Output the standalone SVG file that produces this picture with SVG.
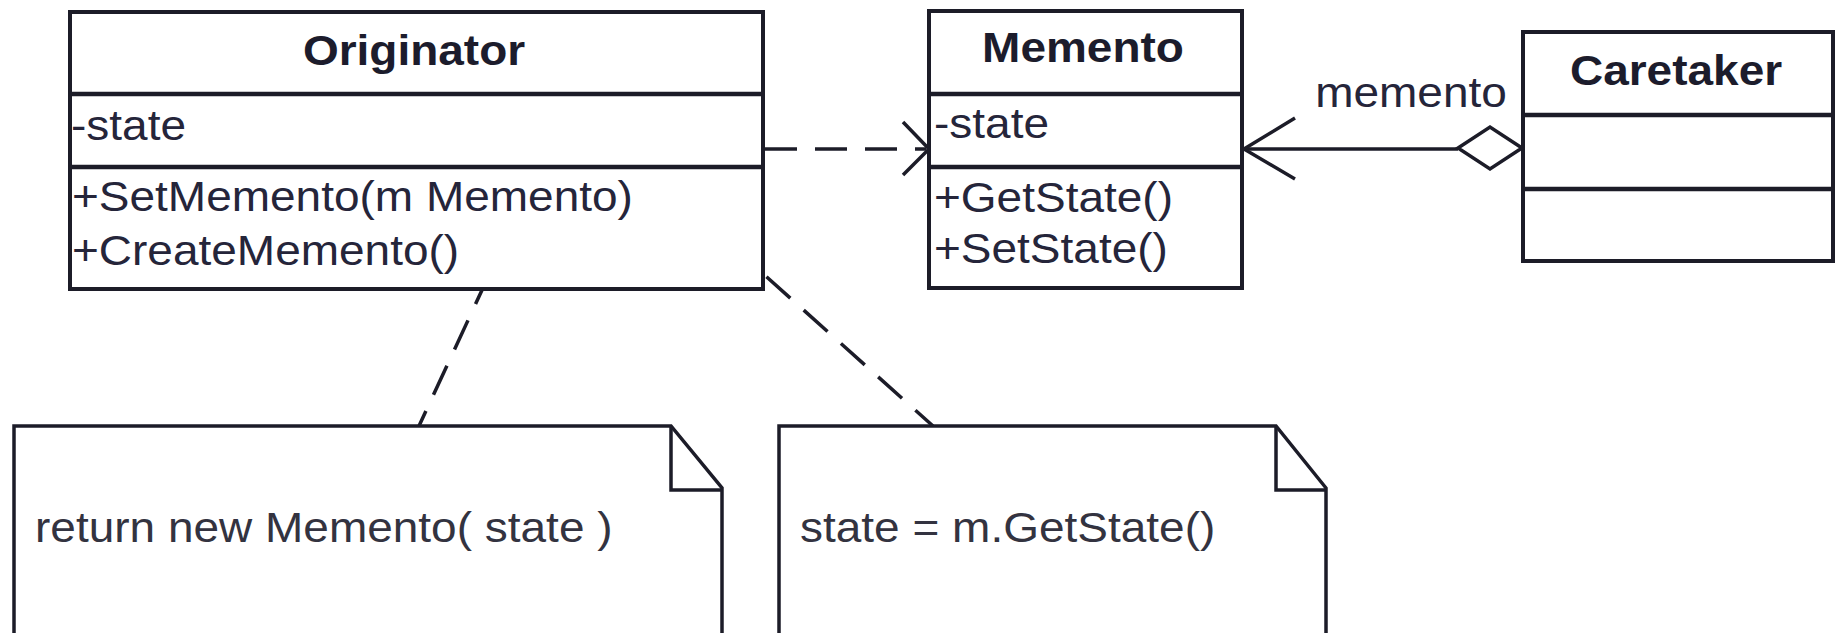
<svg xmlns="http://www.w3.org/2000/svg" width="1837" height="633" viewBox="0 0 1837 633">
<style>
  .box { fill: #ffffff; stroke: #1c1c28; stroke-width: 4; }
  .div { stroke: #1c1c28; stroke-width: 4.5; fill: none; }
  .title { font-family: "Liberation Sans", Arial, sans-serif; font-size: 42px; font-weight: bold; fill: #1c1c2c; text-anchor: middle; }
  .txt { font-family: "Liberation Sans", Arial, sans-serif; font-size: 42px; fill: #25253a; }
  .note { fill: #ffffff; stroke: #1c1c28; stroke-width: 3.5; stroke-linejoin: miter; }
  .ntxt { font-family: "Liberation Sans", Arial, sans-serif; font-size: 42px; fill: #333340; }
  .dash { stroke: #1c1c28; stroke-width: 3.5; fill: none; stroke-dasharray: 32 18; }
  .solid { stroke: #1c1c28; stroke-width: 3.5; fill: none; }
</style>
<rect width="1837" height="633" fill="#ffffff"/>

<g id="connectors">
  <!-- dependency Originator -> Memento -->
  <line class="dash" x1="765" y1="149" x2="926" y2="149" stroke-dasharray="30 16"/>
  <polyline class="solid" points="903,122 929,149 903,175"/>
  <!-- aggregation Caretaker -> Memento -->
  <line class="solid" x1="1244" y1="149" x2="1458" y2="149"/>
  <polyline class="solid" points="1295,118 1244,149 1295,179"/>
  <polygon class="solid" fill="#ffffff" points="1522,148 1490,127 1458,148 1490,169"/>
  <text class="txt" text-anchor="middle" transform="translate(1411,107) scale(1.095,1)">memento</text>
  <!-- note links -->
  <line class="dash" x1="489" y1="275" x2="419" y2="426"/>
  <line class="solid" x1="679" y1="197" x2="683" y2="201"/>
  <line class="dash" x1="692" y1="210" x2="933" y2="426" stroke-dasharray="36 20"/>
</g>

<g id="originator">
  <rect class="box" x="70" y="12" width="693" height="277"/>
  <line class="div" x1="70" y1="94" x2="763" y2="94"/>
  <line class="div" x1="70" y1="167" x2="763" y2="167"/>
  <text class="title" transform="translate(414,65) scale(1.095,1)">Originator</text>
  <text class="txt" transform="translate(71,140) scale(1.095,1)">-state</text>
  <text class="txt" transform="translate(72,211) scale(1.095,1)">+SetMemento(m Memento)</text>
  <text class="txt" transform="translate(72,265) scale(1.095,1)">+CreateMemento()</text>
</g>

<g id="memento">
  <rect class="box" x="929" y="11" width="313" height="277"/>
  <line class="div" x1="929" y1="94" x2="1242" y2="94" stroke="#2a2a44"/>
  <line class="div" x1="929" y1="167" x2="1242" y2="167"/>
  <text class="title" transform="translate(1083,62) scale(1.095,1)">Memento</text>
  <text class="txt" transform="translate(934,138) scale(1.095,1)">-state</text>
  <text class="txt" transform="translate(934,212) scale(1.095,1)">+GetState()</text>
  <text class="txt" transform="translate(934,263) scale(1.095,1)">+SetState()</text>
</g>

<g id="caretaker">
  <rect class="box" x="1523" y="32" width="310" height="229"/>
  <line class="div" x1="1523" y1="115" x2="1833" y2="115"/>
  <line class="div" x1="1523" y1="189" x2="1833" y2="189"/>
  <text class="title" transform="translate(1676,85) scale(1.095,1)">Caretaker</text>
</g>

<g id="note-create">
  <path class="note" d="M14,426 L671,426 L722,488 L722,640 L14,640 Z"/>
  <polyline class="solid" points="671,426 671,490 722,490"/>
  <text class="ntxt" transform="translate(35,542) scale(1.095,1)">return new Memento( state )</text>
</g>

<g id="note-set">
  <path class="note" d="M779,426 L1276,426 L1326,488 L1326,640 L779,640 Z"/>
  <polyline class="solid" points="1276,426 1276,490 1326,490"/>
  <text class="ntxt" transform="translate(800,542) scale(1.095,1)">state = m.GetState()</text>
</g>
</svg>
